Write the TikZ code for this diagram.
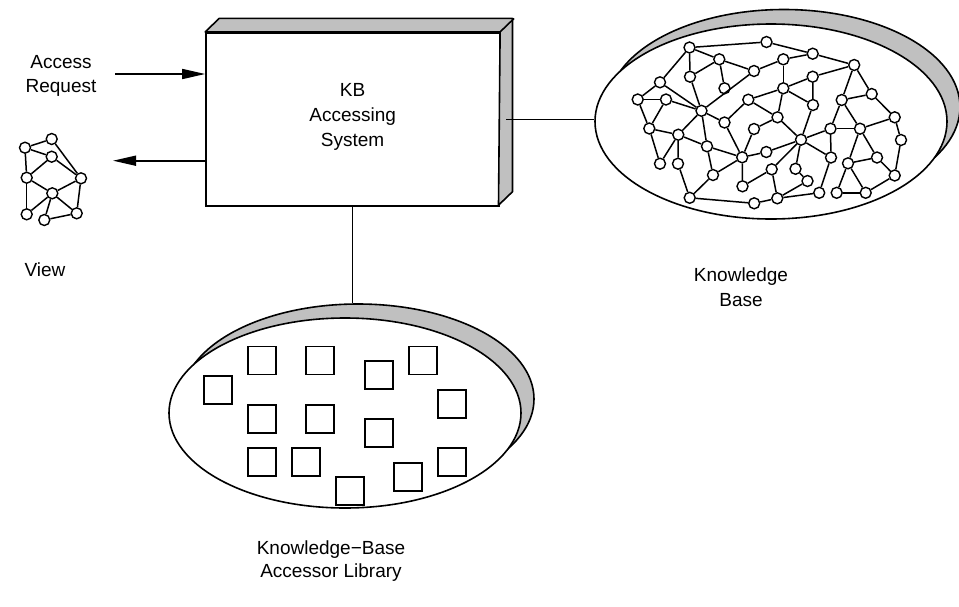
\documentclass[tikz,border=0pt]{standalone}
\usepackage{fontspec}
\setmainfont{Liberation Sans}
\usetikzlibrary{arrows.meta,shapes.geometric}
\definecolor{shade}{RGB}{192,192,192}
\begin{document}
\begin{tikzpicture}[x=1pt,y=-1pt,line width=1.6pt,
  gn/.style={circle,draw,fill=white,inner sep=0pt,minimum size=11pt,line width=1.4pt},
  sq/.style={draw,fill=white,inner sep=0pt,minimum size=28pt,line width=1.7pt},
  lbl/.style={anchor=base,inner sep=0pt,font=\fontsize{19}{25}\selectfont},
  ed/.style={line width=1.5pt},
  arr/.style={-{Triangle[length=23pt,width=10pt]}},
  bigell/.style={ellipse,draw,inner sep=0pt,minimum width=352pt},
  ]
\useasboundingbox (0,0) rectangle (959,606);

% ---------- KB Accessing System box ----------
\node[draw,fill=white,inner sep=0pt,minimum width=293.3pt,minimum height=173.3pt] (kbs) at (352.65,119.35) {};
\draw[fill=shade,line join=round] (kbs.north west) -- ++(14,-13.5) -- ++(293.3,0) -- ++(0,173.3) -- ++(-14,13.5) -- (kbs.north east) -- cycle;
\draw (kbs.north east) -- ++(14,-13.5);
\node[lbl] (kbt1) at (352.65,96) {KB};
\node[lbl] (kbt2) at (352.65,121.3) {Accessing};
\node[lbl] (kbt3) at (352.65,146.7) {System};

% ---------- Access request / view arrows ----------
\node[lbl] (acc1) at (61,68) {Access};
\node[lbl] (acc2) at (61,92) {Request};
\coordinate (arin) at (115,74);
\draw[arr] (arin) -- (arin -| kbs.west);
\coordinate (arout) at (113,160.7);
\draw[arr] (arout -| kbs.west) -- (arout);

% ---------- View graph ----------
\foreach \n/\px/\py in {1/51.7/139, 2/25/147.7, 3/51.7/156.7, 4/26.7/177.7, 5/81/178.3,
  6/52.3/193.3, 7/26.7/214.3, 8/44.3/220, 9/76.7/213.3}
  \node[gn] (v\n) at (\px,\py) {};
\foreach \a/\b in {2/1, 2/3, 2/4, 1/5, 3/4, 3/5, 4/6, 6/5, 5/9, 6/9, 6/8, 8/9, 4/7, 7/6}
  \draw[ed] (v\a) -- (v\b);
\node[lbl] (viewl) at (45,276) {View};

% ---------- Knowledge base ----------
\node[bigell,fill=shade,minimum height=195pt] (kbshadow) at (784,107) {};
\node[bigell,fill=white,minimum height=195pt] (kbell) at (771,121.5) {};
\coordinate (kbsside) at (506,119.3);
\draw (kbsside) -- (kbsside -| kbell.west);

\foreach \n/\px/\py in {
  A/689.5/47.5, B/766.5/42, C/719.3/59.3, D/690/76.7, E/754/71, F/660/82.3,
  G/724.5/88.3, H/637.7/99.5, I/666/99.5, J/748.3/99.7, K/701.5/110.8, L/724.5/122.5,
  M/649.3/128.5, N/678.3/134.7, O/754/129, P/707/146.3, Q/766.3/152, R/742.2/157.3,
  S/660/163.7, T/678/163.7, U/771.7/169.3, V/713/175, W/742.5/186.3, X/689.7/197.8,
  Y/754.2/203.3, Z/777.3/198.3,
  b/783.3/59.3, c/812.7/53.7, d/854.2/65, e/812.7/76.7, f/783.3/88.3, g/813/105,
  h/841.7/100, i/871.7/94, j/777.5/117.3, k/894.7/117.3, l/830.5/128.7, m/860/128.7,
  n/901/140, o/801/139.7, p/831/157.5, q/877/157.5, r/848/163.3, t/795.5/168.8,
  u/894.7/175.5, v/807.5/181, x/819.2/192.8, y/836.7/192.8, z/865.7/192.8}
  \node[gn] (g\n) at (\px,\py) {};
\foreach \a/\b in {A/B, A/C, A/D, A/F, B/c, C/D, C/G, C/E, D/K, E/b, E/K, F/H, F/K,
  H/I, H/M, I/M, I/K, K/L, K/N, K/P, M/N, M/S, N/S, N/T, N/P, P/V, P/R, T/X, X/V, X/Y,
  V/R, L/J, L/R, J/f, J/j, O/R, O/j, R/W, R/Q, W/U, Y/Z, U/Z, Q/o, o/U,
  b/c, b/f, c/d, e/d, e/f, e/g, f/g, f/j, j/o, o/l, o/g, o/t, o/p, d/h, d/i, h/i,
  h/l, h/m, l/m, l/p, m/r, m/q, m/k, i/k, k/n, n/u, q/u, r/q, r/y, r/z, y/z, z/u,
  p/x, t/v, v/Z, x/Z}
  \draw[ed] (g\a) -- (g\b);
\node[lbl] (kbl1) at (741,281) {Knowledge};
\node[lbl] (kbl2) at (741,306) {Base};

% ---------- Accessor library ----------
\node[bigell,fill=shade,minimum height=190pt] (libshadow) at (358,399) {};
\node[bigell,fill=white,minimum height=190pt] (lib) at (345,413) {};
\draw (kbs.south) -- (kbs.south |- libshadow.north);
\foreach \n/\px/\py in {1/261.7/360.5, 2/320/360.5, 3/379/375.3, 4/422.7/360.5,
  5/217.7/389.7, 6/452.3/404, 7/261.7/418.7, 8/320/418.7, 9/379/433,
  10/261.7/462, 11/305.7/462, 12/349.7/491.2, 13/408.3/476.7, 14/452.3/462}
  \node[sq] (s\n) at (\px,\py) {};
\node[lbl] (libl1) at (331,554) {Knowledge−Base};
\node[lbl] (libl2) at (331,577) {Accessor Library};
\end{tikzpicture}
\end{document}
